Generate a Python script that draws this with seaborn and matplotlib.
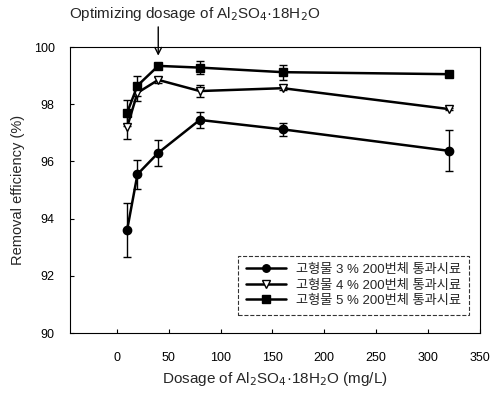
import matplotlib
matplotlib.use("Agg")
import matplotlib.pyplot as plt
import seaborn as sns
import pandas as pd
import numpy as np

sns.set_theme(style="ticks")
plt.rcParams['font.family'] = ['Liberation Sans', 'Noto Sans CJK KR', 'DejaVu Sans']

dosage = [10, 20, 40, 80, 160, 320]
labels = ["고형물 3 % 200번체 통과시료", "고형물 4 % 200번체 통과시료", "고형물 5 % 200번체 통과시료"]
eff_3 = [93.6, 95.55, 96.3, 97.45, 97.12, 96.37]
err_3 = [0.95, 0.5, 0.45, 0.27, 0.23, 0.72]
eff_4 = [97.2, 98.4, 98.85, 98.46, 98.56, 97.83]
err_4 = [0.4, 0.3, 0.1, 0.2, 0.05, 0.05]
eff_5 = [97.7, 98.65, 99.34, 99.28, 99.12, 99.05]
err_5 = [0.45, 0.35, 0.05, 0.23, 0.26, 0.05]

effs = [eff_3, eff_4, eff_5]
errs = [err_3, err_4, err_5]
markers = ['o', 'v', 's']
mfcs = ['black', 'white', 'black']

rows = []
for lab, e in zip(labels, effs):
    for x, y in zip(dosage, e):
        rows.append({"Dosage": x, "Efficiency": y, "Series": lab})
df = pd.DataFrame(rows)

fig = plt.figure(figsize=(4.92, 3.94), dpi=100)
ax = fig.add_axes([0.1423, 0.1548, 0.8333, 0.7259])

for lab, e, er, m, fc in zip(labels, effs, errs, markers, mfcs):
    sub = df[df["Series"] == lab]
    ax.errorbar(dosage, e, yerr=er, fmt='none', ecolor='black', elinewidth=1.0,
                capsize=3, capthick=1.0, zorder=2)
    sns.lineplot(data=sub, x="Dosage", y="Efficiency", ax=ax, color='black',
                 marker=m, markersize=6, markerfacecolor=fc, markeredgecolor='black',
                 markeredgewidth=1.0, linewidth=1.8, label=lab, zorder=3)

ax.set_xlim(-45, 350)
ax.set_ylim(90, 100)
ax.set_xticks([0, 50, 100, 150, 200, 250, 300, 350])
ax.set_yticks([90, 92, 94, 96, 98, 100])
ax.tick_params(direction='in', length=3, width=0.8, labelsize=9, colors='black')
ax.tick_params(axis='x', pad=14)
ax.tick_params(axis='y', pad=11)
for s in ax.spines.values():
    s.set_linewidth(0.8)
    s.set_color('black')
    s.set_visible(True)

ax.set_xlabel("Dosage of Al$_2$SO$_4$·18H$_2$O (mg/L)", fontsize=11, labelpad=4)
ax.set_ylabel("Removal efficiency (%)", fontsize=10.5, labelpad=6)

leg = ax.legend(loc='lower right', bbox_to_anchor=(0.99, 0.04), fontsize=9.5,
                frameon=True, fancybox=False, edgecolor='black', handlelength=3.0,
                borderpad=0.6, labelspacing=0.25, markerscale=0.9)
leg.get_frame().set_linestyle('--')
leg.get_frame().set_linewidth(0.8)

ax.text(75, 101.15, "Optimizing dosage of Al$_2$SO$_4$·18H$_2$O", ha='center', va='center',
        fontsize=11, clip_on=False)
ax.annotate("", xy=(40, 99.6), xytext=(40, 100.8), textcoords='data',
            annotation_clip=False,
            arrowprops=dict(arrowstyle='->', color='black', lw=1.0))

fig.savefig("out.png", dpi=100)
